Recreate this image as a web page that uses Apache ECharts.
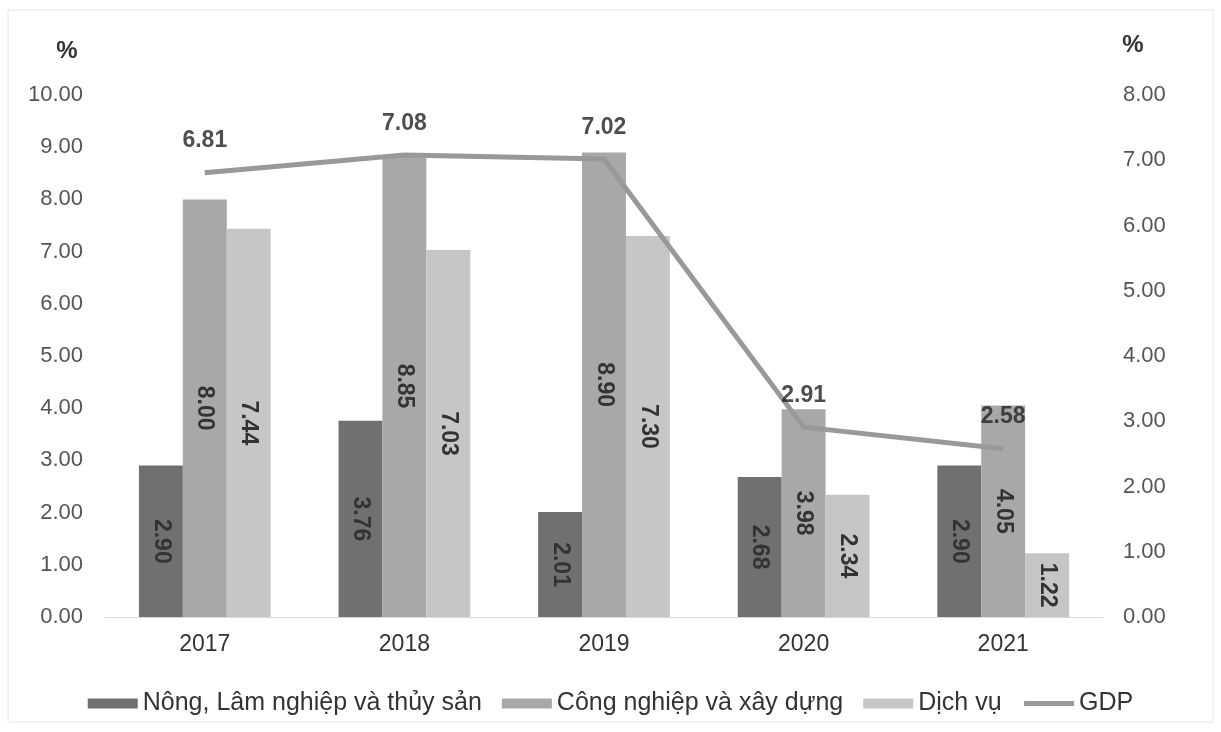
<!DOCTYPE html>
<html><head><meta charset="utf-8">
<script src="https://cdn.jsdelivr.net/npm/echarts@6/dist/echarts.min.js"></script>
<style>html,body{margin:0;padding:0;background:#fff}#c{width:1221px;height:732px}</style>
</head><body><div id="c"></div>
<script>
const years = ['2017','2018','2019','2020','2021'];
const nongLamThuySan = [2.90, 3.76, 2.01, 2.68, 2.90];
const congNghiepXayDung = [8.00, 8.85, 8.90, 3.98, 4.05];
const dichVu = [7.44, 7.03, 7.30, 2.34, 1.22];
const gdp = [6.81, 7.08, 7.02, 2.91, 2.58];
const leftTicks = {min: 0, max: 10, interval: 1};
const rightTicks = {min: 0, max: 8, interval: 1};

const FONT = '"Liberation Sans", Arial, sans-serif';
const chart = echarts.init(document.getElementById('c'));

const barLabel = {
  show: true, position: 'inside', rotate: -90,
  fontFamily: FONT, fontSize: 23, fontWeight: 'bold', color: '#333',
  formatter: p => p.value.toFixed(2)
};

chart.setOption({
  animation: false,
  backgroundColor: '#fff',
  textStyle: {fontFamily: FONT},
  graphic: [{type: 'rect', shape: {x: 8, y: 10, width: 1205, height: 712},
    style: {fill: 'none', stroke: '#e6e6e6', lineWidth: 1}, silent: true}],
  grid: {left: 105, right: 118, top: 95, bottom: 115},
  legend: {
    left: 'center', top: 686, itemWidth: 50, itemHeight: 10, itemGap: 20,
    textStyle: {fontFamily: FONT, fontSize: 25, color: '#333'},
    data: [
      {name: 'Nông, Lâm nghiệp và thủy sản', icon: 'rect'},
      {name: 'Công nghiệp và xây dựng', icon: 'rect'},
      {name: 'Dịch vụ', icon: 'rect'},
      {name: 'GDP', itemStyle: {opacity: 0}, lineStyle: {width: 5, color: '#999999'}}
    ]
  },
  xAxis: {
    type: 'category', data: years,
    axisTick: {show: false},
    axisLine: {lineStyle: {color: '#d9d9d9', width: 1}},
    axisLabel: {fontFamily: FONT, fontSize: 23, color: '#333', margin: 16}
  },
  yAxis: [{
    type: 'value', min: leftTicks.min, max: leftTicks.max, interval: leftTicks.interval,
    name: '%', nameLocation: 'end', nameGap: 32,
    nameTextStyle: {fontFamily: FONT, fontSize: 24, fontWeight: 'bold', color: '#333', padding: [0, 0, 0, -76]},
    splitLine: {show: false}, axisLine: {show: false}, axisTick: {show: false},
    axisLabel: {fontFamily: FONT, fontSize: 22, color: '#555', margin: 22, formatter: v => v.toFixed(2)}
  }, {
    type: 'value', min: rightTicks.min, max: rightTicks.max, interval: rightTicks.interval,
    name: '%', nameLocation: 'end', nameGap: 38,
    nameTextStyle: {fontFamily: FONT, fontSize: 24, fontWeight: 'bold', color: '#333', padding: [0, 0, 0, 60]},
    splitLine: {show: false}, axisLine: {show: false}, axisTick: {show: false},
    axisLabel: {fontFamily: FONT, fontSize: 22, color: '#555', margin: 20, formatter: v => v.toFixed(2)}
  }],
  series: [{
    name: 'Nông, Lâm nghiệp và thủy sản', type: 'bar', data: nongLamThuySan,
    barGap: '0%', barCategoryGap: '34%',
    itemStyle: {color: '#707070'}, label: barLabel
  }, {
    name: 'Công nghiệp và xây dựng', type: 'bar', data: congNghiepXayDung,
    barGap: '0%', barCategoryGap: '34%',
    itemStyle: {color: '#a8a8a8'}, label: barLabel
  }, {
    name: 'Dịch vụ', type: 'bar', data: dichVu,
    barGap: '0%', barCategoryGap: '34%',
    itemStyle: {color: '#c6c6c6'}, label: barLabel
  }, {
    name: 'GDP', type: 'line', yAxisIndex: 1, data: gdp,
    symbol: 'none', lineStyle: {color: '#999999', width: 5}, itemStyle: {color: '#999999'},
    z: 5
  }, {
    name: 'GDP_labels', type: 'scatter', yAxisIndex: 1, data: gdp,
    symbolSize: 2, itemStyle: {color: 'rgba(0,0,0,0)'}, z: 6, silent: true,
    label: {show: true, position: 'top', distance: 19, fontFamily: FONT, fontSize: 23,
      fontWeight: 'bold', color: '#222', formatter: p => p.value.toFixed(2)}
  }]
});
</script></body></html>
